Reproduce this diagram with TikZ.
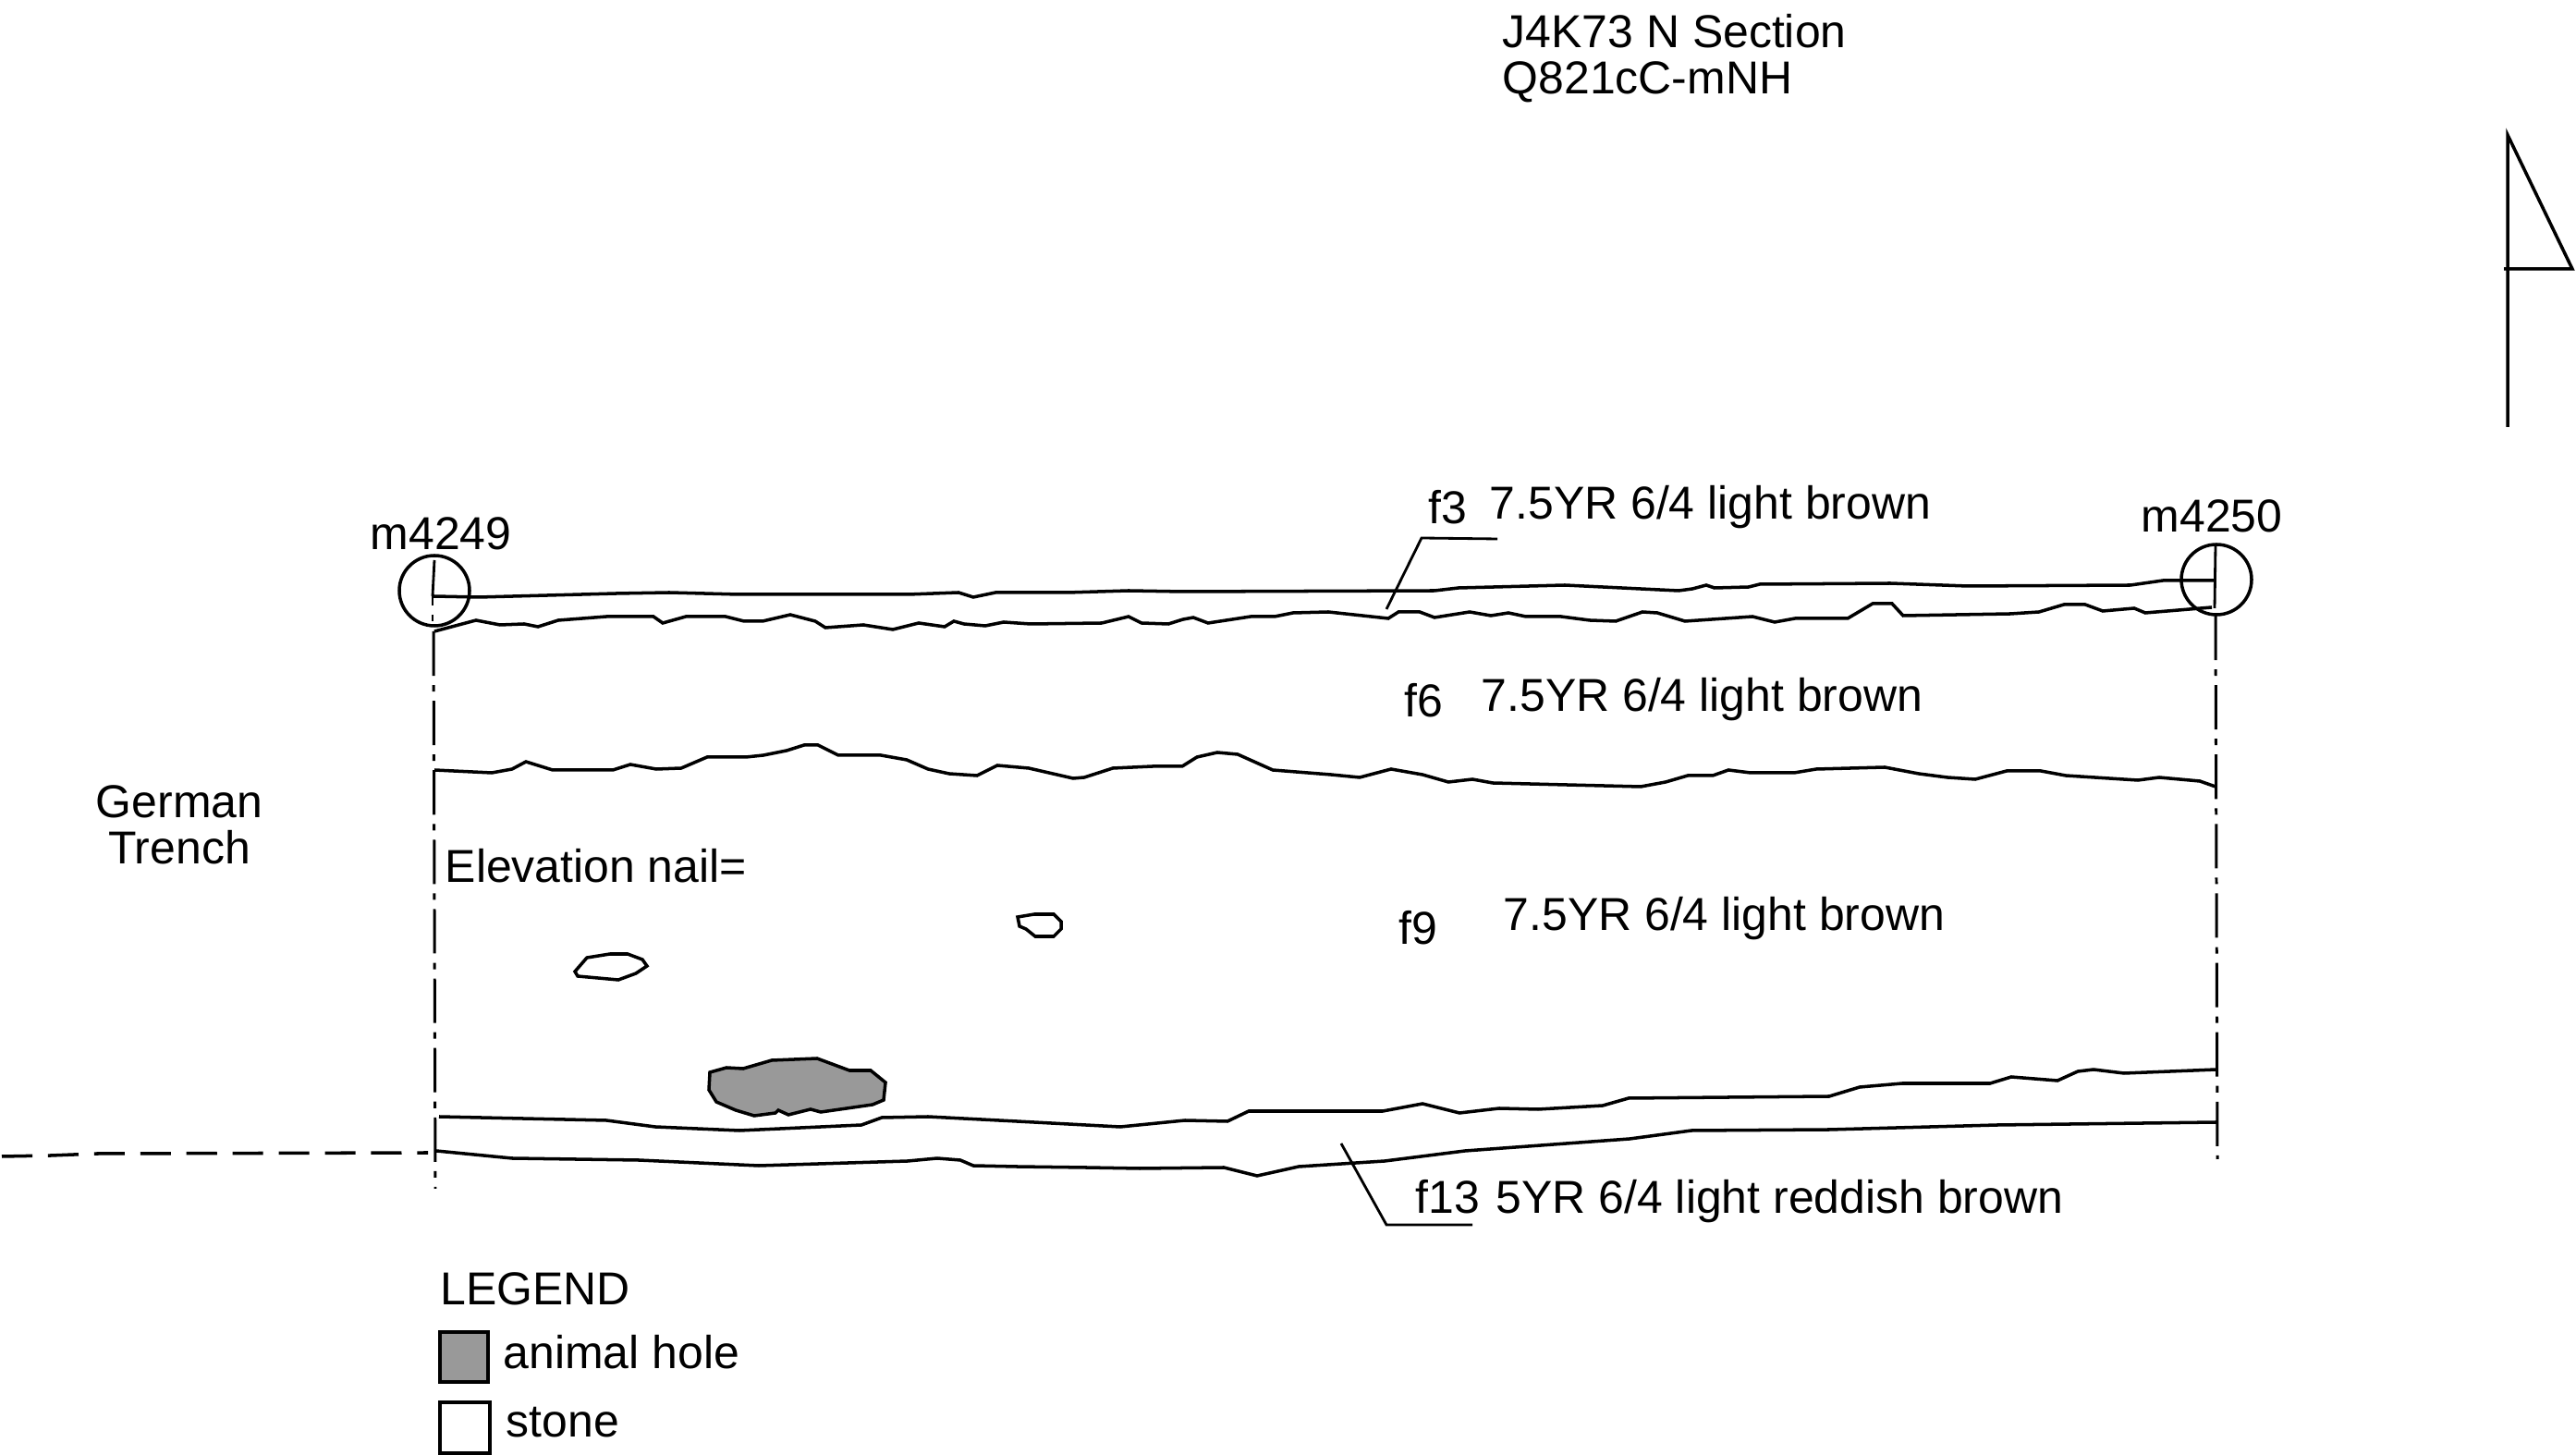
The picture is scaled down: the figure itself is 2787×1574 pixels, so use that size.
\documentclass[tikz,border=0pt]{standalone}
\usepackage{fontspec}
\setmainfont{Liberation Sans}
\tikzset{
    soil/.style={line width=1pt},
    leader/.style={line width=0.8pt},
    baseline/.style={line width=0.85pt,dash pattern=on 13.66pt off 2.85pt on 2pt off 2.85pt},
    stringline/.style={line width=1pt,dash pattern=on 9.4pt off 4.8pt},
    lbl/.style={anchor=base west,inner sep=0pt,font=\fontsize{14.2}{16}\selectfont},
}
\begin{document}
\begin{tikzpicture}[x=0.01cm,y=-0.01cm]
    \useasboundingbox (0,0) rectangle (2787,1574);
    % title
    \node[lbl] (title) at (1625,52){J4K73 N Section};
    \node[lbl] (code) at (1625,102){Q821cC-mNH};
    % north arrow
    \draw[soil] (2713,462)--(2713,146)--(2783,291)--(2709,291);
    % nails
    \foreach \cx/\cy/\nm/\lx/\ly in {470/639/m4249/400/595,2398/627/m4250/2316/576}{
        \node[lbl] (\nm) at (\lx,\ly){\nm};
        \draw[soil] (\cx,\cy) circle (38);
    }
    \draw[leader] (470,606)--(468,645);
    \draw[leader] (2397,589)--(2396,658);
    \draw[baseline] (468,645)--(468,655);
    \draw[baseline,dash phase=0pt] (468,665)--(468,672);
    % edges of the section
    \draw[baseline] (469,683)--(471,1286);
    \draw[baseline] (2397,666)--(2399,1254);
    \draw[stringline] (2,1251)--(55,1250)--(105,1248)--(463,1247);
    % f3 top
    \draw[soil] (469,645)--(518,646)--(667,642)--(724,641)--(799,643)--(983,643)--(1037,641)--(1053,646)--(1077,641)--(1155,641)--(1221,639)--(1280,640)
        --(1552,639)--(1578,636)--(1693,633)--(1816,639)--(1831,637)--(1846,633)--(1855,636)--(1892,635)--(1904,632)--(2045,631)--(2129,634)--(2305,633)--(2340,628)--(2396,628);
    % f3/f6
    \draw[soil] (470,683)--(515,671)--(541,676)--(567,675)--(582,678)--(604,671)--(656,667)--(707,667)--(717,674)--(742,667)--(785,667)--(805,672)--(825,672)--(855,665)--(882,672)--(893,679)--(934,676)--(966,681)--(994,674)--(1022,678)--(1032,672)--(1043,675)--(1066,677)--(1086,673)--(1115,675)--(1192,674)--(1221,667)--(1235,674)--(1264,675)--(1280,670)
        --(1291,668)--(1307,674)--(1353,667)--(1379,667)--(1399,663)--(1437,662)--(1502,669)--(1513,662)--(1536,662)--(1552,668)--(1590,662)--(1613,666)--(1632,663)--(1651,667)--(1689,667)--(1720,671)--(1748,672)--(1777,662)--(1793,663)--(1823,672)--(1896,667)--(1920,673)--(1942,669)--(1999,669)--(2026,653)--(2047,653)--(2059,666)--(2175,664)--(2206,662)--(2233,654)--(2256,654)--(2275,661)--(2309,658)--(2321,663)--(2393,657);
    % f6/f9
    \draw[soil] (470,833)--(532,836)--(554,832)--(569,824)--(598,833)--(663,833)--(682,827)--(710,832)--(737,831)--(765,819)--(807,819)--(826,817)--(851,812)--(870,806)--(885,806)--(907,817)--(953,817)--(981,822)--(1004,832)--(1027,837)--(1057,839)--(1079,828)--(1113,831)--(1161,842)--(1173,841)--(1204,831)--(1247,829)--(1279,829)--(1295,819)--(1317,814)--(1339,816)--(1377,833)--(1440,838)
        --(1471,841)--(1505,832)--(1539,838)--(1567,846)--(1593,843)--(1615,847)--(1775,851)--(1802,846)--(1826,839)--(1853,839)--(1870,833)--(1894,836)--(1941,836)--(1965,832)--(2039,830)--(2076,837)--(2107,841)--(2137,843)--(2171,834)--(2208,834)--(2235,839)--(2313,844)--(2336,841)--(2380,845)--(2397,851);
    % f9/f13
    \draw[soil] (475,1208)--(656,1212)--(709,1219)--(800,1223)--(932,1217)--(954,1209)--(1004,1208)--(1100,1213)--(1212,1219)--(1282,1212)--(1328,1213)--(1351,1202)--(1496,1202)--(1539,1194)--(1579,1204)--(1622,1199)--(1664,1200)--(1734,1196)--(1762,1188)--(1979,1186)--(2012,1176)--(2058,1172)--(2153,1172)--(2176,1165)--(2226,1169)--(2248,1159)--(2265,1157)--(2298,1161)--(2398,1157);
    % f13 bottom
    \draw[soil] (472,1245)--(554,1253)--(691,1255)--(821,1261)--(982,1256)--(1014,1253)--(1039,1255)--(1053,1261)--(1100,1262)--(1175,1263)--(1233,1264)--(1324,1263)--(1360,1272)--(1405,1262)--(1498,1256)--(1585,1245)--(1763,1232)--(1830,1223)--(1979,1222)--(2161,1217)--(2398,1214);
    % stones and animal hole
    \draw[soil] (635,1036)--(660,1032)--(679,1032)--(695,1038)--(700,1045)--(688,1053)--(669,1060)--(625,1056)--(622,1051)--cycle;
    \draw[soil] (1101,992)--(1119,989)--(1140,989)--(1148,997)--(1148,1005)--(1140,1013)--(1120,1013)--(1110,1005)--(1103,1002)--cycle;
    \draw[soil,fill=black!40] (768,1160)--(786,1155)--(804,1156)--(835,1147)--(884,1145)--(919,1158)--(942,1158)--(958,1171)--(956,1190)--(944,1195)--(888,1203)--(877,1200)--(853,1206)--(842,1201)--(839,1204)--(816,1207)--(796,1201)--(775,1192)--(767,1179)--cycle;
    % leaders
    \draw[leader] (1620,583)--(1538,582)--(1500,659);
    \draw[leader] (1451,1237)--(1500,1325)--(1593,1325);
    % layer labels
    \node[lbl] (f3) at (1545,567){f3};
    \node[lbl] (munsellthree) at (1611,562){7.5YR 6/4 light brown};
    \node[lbl] (f6) at (1519,776){f6};
    \node[lbl] (munsellsix) at (1602,770){7.5YR 6/4 light brown};
    \node[lbl] (f9) at (1513,1022){f9};
    \node[lbl] (munsellnine) at (1626,1007){7.5YR 6/4 light brown};
    \node[lbl] (f13) at (1531,1313){f13};
    \node[lbl] (munsellthirteen) at (1618,1313){5YR 6/4 light reddish brown};
    \node[lbl] (nail) at (481,955){Elevation nail=};
    \node[lbl,anchor=base] (german) at (194,885){German};
    \node[lbl,anchor=base] (trench) at (194,935){Trench};
    % legend
    \node[lbl] (legend) at (476,1412){LEGEND};
    \draw[soil,fill=black!40] (476,1441) rectangle (528,1495);
    \node[lbl] (hole) at (544,1481){animal hole};
    \draw[soil] (476,1517) rectangle (530,1572);
    \node[lbl] (stone) at (547,1555){stone};
\end{tikzpicture}
\end{document}
